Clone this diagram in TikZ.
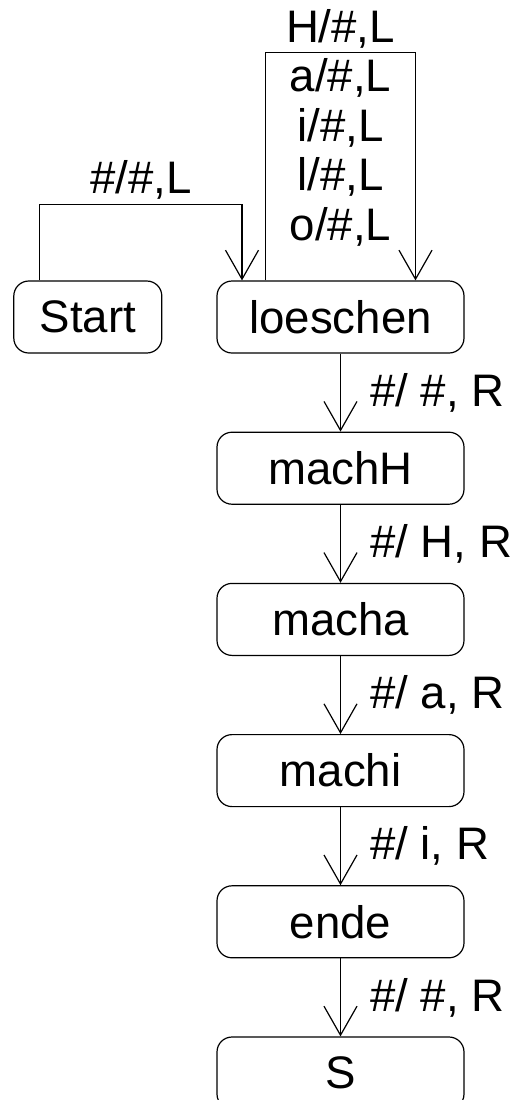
\documentclass[tikz,border=0pt]{standalone}
\usepackage{fontspec}
\setmainfont{Liberation Sans}
\usepackage{tikz}
\usetikzlibrary{positioning,arrows.meta}

\begin{document}
\begin{tikzpicture}[
    state/.style={draw, rounded corners=7.5pt, minimum width=123.5pt, minimum height=36pt, align=center, line width=0.6pt},
    arrow/.style={-{Straight Barb[length=14.5pt, width=16.5pt]}, line width=0.6pt},
    trans/.style={right, inner sep=0pt, xshift=14.5pt},
    node distance=39pt,
    font=\fontsize{22.8}{24.75}\selectfont
]
    \useasboundingbox (0,0) rectangle (256.5pt,-550pt);

    \node[state] (loeschen) at (170.25pt,-158.5pt) {loeschen};
    \node[state, minimum width=74pt, left=27pt of loeschen] (start) {Start};
    \node[state, below=of loeschen] (machH) {machH};
    \node[state, below=of machH] (macha) {macha};
    \node[state, below=of macha] (machi) {machi};
    \node[state, below=of machi] (ende) {ende};
    \node[state, below=of ende] (s) {S};

    % Start -> loeschen
    \draw[arrow] ([xshift=-24pt]start.north) -- ++(0,38pt)
        -| ([xshift=-49.25pt]loeschen.north) node[pos=0.25, above, inner sep=2pt] {\#/\#,L};

    % loop on loeschen
    \draw[arrow] ([xshift=-37.5pt]loeschen.north) -- ++(0,114pt)
        -| ([xshift=37.5pt]loeschen.north);
    \node[align=center, inner sep=0pt] (loop) at (170.25pt,-63.75pt) {H/\#,L\\a/\#,L\\i/\#,L\\l/\#,L\\o/\#,L};

    \draw[arrow] (loeschen) -- (machH) node[midway, trans] {\#/ \#, R};
    \draw[arrow] (machH) -- (macha) node[midway, trans] {\#/ H, R};
    \draw[arrow] (macha) -- (machi) node[midway, trans] {\#/ a, R};
    \draw[arrow] (machi) -- (ende) node[midway, trans] {\#/ i, R};
    \draw[arrow] (ende) -- (s) node[midway, trans] {\#/ \#, R};
\end{tikzpicture}
\end{document}
